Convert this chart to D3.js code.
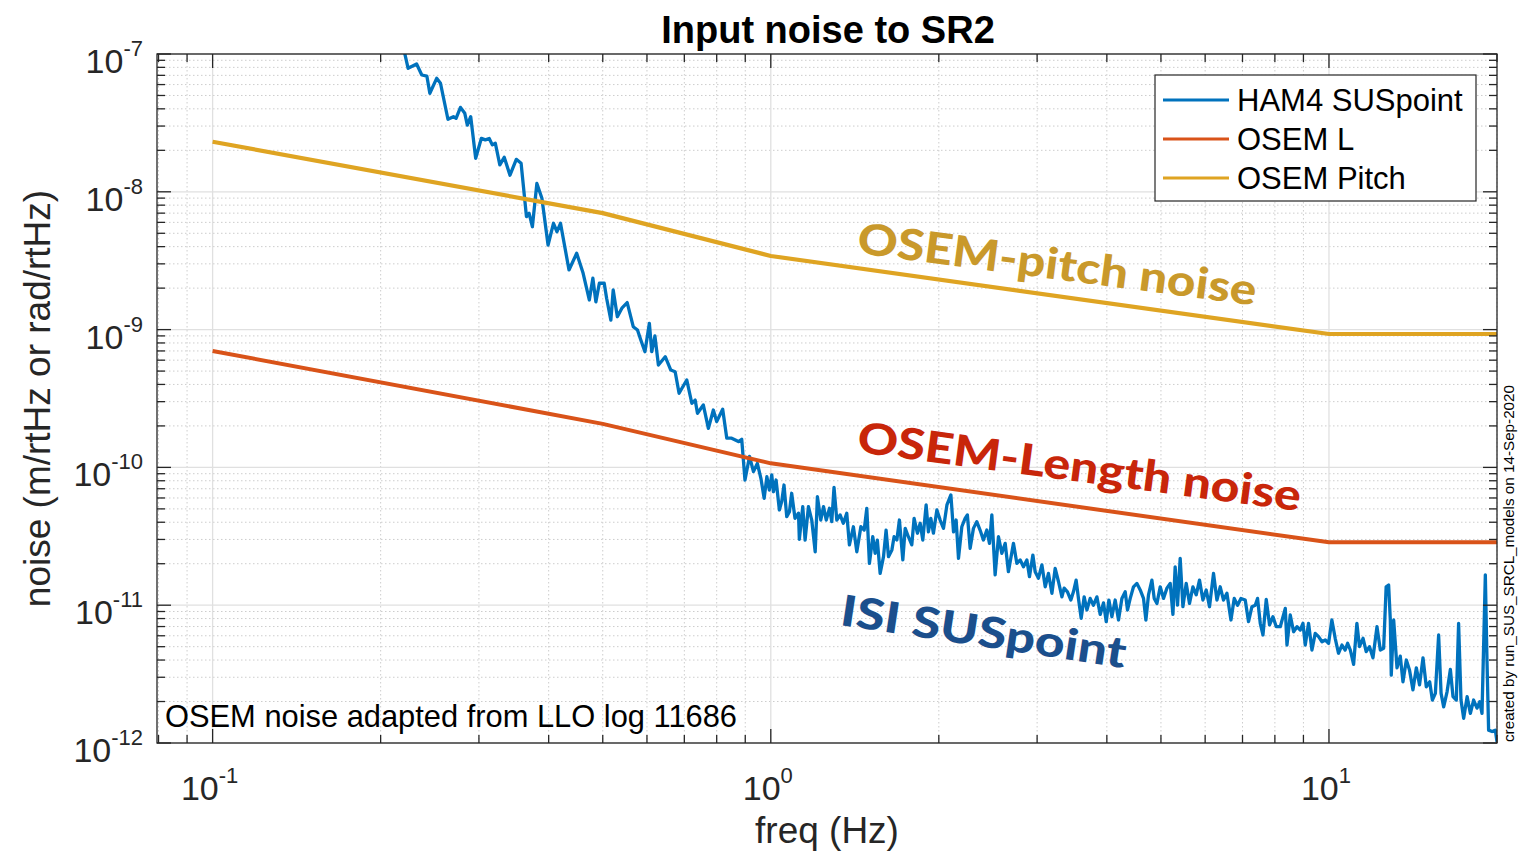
<!DOCTYPE html>
<html><head><meta charset="utf-8">
<script src="https://cdn.jsdelivr.net/npm/d3@7/dist/d3.min.js"></script>
<style>body{margin:0;background:#fff}svg{display:block}</style>
</head><body>
<svg id="chart" width="1518" height="861"></svg>
<script>
// ---- data ----
const hamFreq = [0.215,0.221,0.224,0.232,0.237,0.242,0.245,0.252,0.256,0.264,0.270,0.273,0.278,0.283,0.286,0.290,0.296,0.303,0.308,0.313,0.317,0.321,0.327,0.333,0.341,0.350,0.357,0.365,0.369,0.374,0.381,0.389,0.399,0.408,0.414,0.420,0.435,0.449,0.461,0.473,0.480,0.486,0.493,0.503,0.508,0.517,0.522,0.531,0.541,0.553,0.567,0.577,0.585,0.595,0.606,0.612,0.620,0.629,0.647,0.662,0.674,0.685,0.707,0.722,0.732,0.739,0.757,0.773,0.789,0.800,0.820,0.834,0.851,0.875,0.887,0.899,0.916,0.931,0.946,0.960,0.973,0.984,0.994,1.004,1.011,1.022,1.036,1.046,1.056,1.068,1.080,1.090,1.105,1.121,1.125,1.141,1.152,1.168,1.184,1.201,1.212,1.229,1.243,1.257,1.274,1.286,1.298,1.313,1.331,1.349,1.368,1.383,1.406,1.426,1.450,1.470,1.486,1.502,1.523,1.538,1.552,1.570,1.592,1.609,1.625,1.648,1.663,1.682,1.700,1.724,1.741,1.764,1.789,1.806,1.831,1.852,1.872,1.898,1.916,1.935,1.956,1.984,2.011,2.039,2.068,2.102,2.125,2.148,2.169,2.199,2.229,2.250,2.276,2.307,2.339,2.371,2.404,2.438,2.465,2.489,2.523,2.558,2.594,2.630,2.665,2.721,2.760,2.798,2.836,2.876,2.907,2.948,2.976,3.017,3.060,3.102,3.144,3.189,3.232,3.277,3.323,3.354,3.400,3.448,3.485,3.524,3.558,3.598,3.643,3.684,3.734,3.785,3.839,3.892,3.945,3.990,4.034,4.084,4.140,4.197,4.256,4.315,4.356,4.405,4.465,4.528,4.590,4.653,4.699,4.750,4.817,4.863,4.918,4.985,5.053,5.125,5.195,5.253,5.302,5.354,5.413,5.474,5.549,5.625,5.705,5.783,5.862,5.945,6.027,6.109,6.211,6.299,6.385,6.472,6.564,6.674,6.765,6.858,6.955,7.079,7.176,7.278,7.378,7.448,7.532,7.616,7.720,7.826,7.937,8.046,8.180,8.351,8.409,8.524,8.642,8.764,8.884,8.983,9.068,9.192,9.322,9.449,9.580,9.716,9.849,9.984,10.12,10.26,10.40,10.55,10.69,10.80,10.92,11.07,11.22,11.34,11.51,11.66,11.82,11.99,12.19,12.36,12.53,12.66,12.79,12.88,12.93,13.06,13.24,13.42,13.57,13.76,13.94,14.14,14.34,14.53,14.74,14.94,15.15,15.32,15.51,15.72,15.88,16.05,16.28,16.50,16.68,16.91,17.07,17.24,17.43,17.68,17.92,18.16,18.42,18.62,18.80,19.06,19.19,19.32,19.60,19.86,20.00];
const hamAmp = [1.49e-7,1.00e-7,7.87e-8,8.46e-8,7.04e-8,6.92e-8,5.19e-8,6.66e-8,6.13e-8,3.36e-8,3.51e-8,3.41e-8,4.10e-8,3.71e-8,3.05e-8,3.51e-8,1.75e-8,2.44e-8,2.38e-8,2.44e-8,2.19e-8,2.25e-8,1.57e-8,1.78e-8,1.32e-8,1.72e-8,1.61e-8,6.60e-9,6.98e-9,5.58e-9,1.15e-8,8.97e-9,4.11e-9,5.91e-9,5.13e-9,5.91e-9,2.71e-9,3.58e-9,2.57e-9,1.64e-9,2.36e-9,1.59e-9,2.17e-9,2.17e-9,1.69e-9,1.17e-9,1.94e-9,1.24e-9,1.43e-9,1.57e-9,1.05e-9,9.93e-10,8.40e-10,6.91e-10,1.11e-9,6.91e-10,8.99e-10,5.53e-10,6.36e-10,5.09e-10,4.95e-10,3.45e-10,4.31e-10,2.92e-10,3.08e-10,2.47e-10,2.84e-10,1.92e-10,2.61e-10,2.15e-10,2.64e-10,1.63e-10,1.63e-10,1.54e-10,1.60e-10,8.10e-11,1.20e-10,9.31e-11,1.07e-10,8.33e-11,5.97e-11,8.56e-11,6.85e-11,8.81e-11,6.66e-11,8.10e-11,4.91e-11,5.64e-11,7.45e-11,4.39e-11,4.77e-11,6.49e-11,4.27e-11,4.65e-11,3.01e-11,5.19e-11,2.97e-11,5.19e-11,4.15e-11,2.44e-11,6.13e-11,4.15e-11,5.19e-11,4.15e-11,5.05e-11,4.04e-11,7.17e-11,4.15e-11,4.52e-11,3.93e-11,4.65e-11,2.74e-11,3.71e-11,2.44e-11,3.71e-11,3.51e-11,5.05e-11,2.01e-11,3.14e-11,2.38e-11,2.97e-11,1.70e-11,2.25e-11,3.51e-11,2.25e-11,2.52e-11,3.14e-11,2.97e-11,4.15e-11,2.13e-11,3.61e-11,3.14e-11,2.74e-11,4.27e-11,3.33e-11,3.93e-11,2.97e-11,5.34e-11,3.41e-11,4.27e-11,3.33e-11,4.91e-11,4.15e-11,3.61e-11,5.34e-11,6.31e-11,3.41e-11,4.15e-11,2.19e-11,3.71e-11,4.27e-11,4.52e-11,2.59e-11,3.61e-11,4.04e-11,3.51e-11,2.97e-11,3.51e-11,2.81e-11,4.52e-11,1.66e-11,3.14e-11,2.38e-11,2.81e-11,1.75e-11,2.81e-11,2.01e-11,2.13e-11,1.90e-11,2.13e-11,1.61e-11,2.31e-11,1.75e-11,1.57e-11,1.96e-11,1.36e-11,1.70e-11,1.22e-11,1.85e-11,1.48e-11,1.15e-11,1.33e-11,1.25e-11,1.09e-11,1.25e-11,1.52e-11,1.12e-11,8.03e-12,1.15e-11,9.23e-12,1.12e-11,1.00e-11,1.15e-11,8.57e-12,1.04e-11,7.59e-12,1.09e-11,8.25e-12,1.09e-11,7.81e-12,1.12e-11,1.25e-11,9.23e-12,1.12e-11,1.36e-11,1.44e-11,1.29e-11,1.12e-11,7.81e-12,1.19e-11,1.52e-11,1.12e-11,1.03e-11,1.36e-11,1.12e-11,1.33e-11,1.44e-11,8.57e-12,1.90e-11,1.00e-11,2.19e-11,9.75e-12,1.44e-11,1.03e-11,1.36e-11,1.19e-11,1.52e-11,1.09e-11,1.29e-11,9.75e-12,1.70e-11,1.09e-11,1.36e-11,1.09e-11,1.22e-11,7.81e-12,1.12e-11,1.00e-11,1.12e-11,1.09e-11,7.59e-12,9.75e-12,1.00e-11,1.12e-11,7.39e-12,6.08e-12,1.10e-11,7.19e-12,8.25e-12,6.98e-12,6.98e-12,9.49e-12,5.14e-12,8.49e-12,6.42e-12,6.98e-12,6.61e-12,7.39e-12,5.14e-12,7.39e-12,4.73e-12,6.25e-12,5.91e-12,5.43e-12,5.59e-12,5.29e-12,7.81e-12,5.75e-12,4.48e-12,5.14e-12,4.73e-12,5.29e-12,4.73e-12,3.72e-12,7.39e-12,5.00e-12,5.75e-12,4.60e-12,5.00e-12,4.15e-12,6.98e-12,4.73e-12,4.87e-12,1.36e-11,1.40e-11,7.81e-12,3.11e-12,7.81e-12,3.51e-12,4.27e-12,2.78e-12,4.00e-12,3.39e-12,2.43e-12,3.51e-12,2.64e-12,4.15e-12,2.56e-12,2.78e-12,2.05e-12,2.29e-12,6.08e-12,2.29e-12,1.83e-12,2.36e-12,3.42e-12,2.17e-12,2.05e-12,7.39e-12,2.05e-12,1.51e-12,2.17e-12,1.64e-12,2.05e-12,1.79e-12,1.99e-12,1.64e-12,1.66e-11,4.00e-12,1.24e-12,1.21e-12,1.24e-12,1.02e-12];
const osemFreq = [0.1, 0.5, 1, 10, 20];
const osemL = [7.0e-10, 2.07e-10, 1.07e-10, 2.86e-11, 2.86e-11];
const osemPitch = [2.31e-8, 7.0e-9, 3.42e-9, 9.29e-10, 9.29e-10];
const xTickExps = [-1, 0, 1];
const yTickExps = [-12, -11, -10, -9, -8, -7];
const legendLabels = ["HAM4 SUSpoint", "OSEM L", "OSEM Pitch"];
const seriesColors = ["#0072BD", "#D95319", "#DFA422"];

// ---- layout ----
const L = 157, R = 1497, T = 54, B = 743;
const svg = d3.select("#chart");
const x = d3.scaleLog().domain([0.0795, 20]).range([L, R]);
const y = d3.scaleLog().domain([1e-12, 1e-7]).range([B, T]);
const font = "'Liberation Sans', Arial, Helvetica, sans-serif";
const axisColor = "#262626";

svg.append("rect").attr("width", 1518).attr("height", 861).attr("fill", "#fff");

const xMinor = [], yMinor = [];
for (let e = -2; e <= 1; e++) for (let k = 2; k <= 9; k++) {
  const v = k * Math.pow(10, e);
  if (v >= 0.0795 && v <= 20.0001) xMinor.push(v);
}
for (let e = -12; e <= -8; e++) for (let k = 2; k <= 9; k++) yMinor.push(k * Math.pow(10, e));
const xMajor = xTickExps.map(e => Math.pow(10, e));
const yMajor = yTickExps.map(e => Math.pow(10, e));

const grid = svg.append("g");
grid.selectAll(".xmn").data(xMinor).join("line")
  .attr("x1", d => x(d)).attr("x2", d => x(d)).attr("y1", T).attr("y2", B)
  .attr("stroke", "#cdcdcd").attr("stroke-width", 1).attr("stroke-dasharray", "1.5,2.5");
grid.selectAll(".ymn").data(yMinor).join("line")
  .attr("x1", L).attr("x2", R).attr("y1", d => y(d)).attr("y2", d => y(d))
  .attr("stroke", "#cdcdcd").attr("stroke-width", 1).attr("stroke-dasharray", "1.5,2.5");
grid.selectAll(".xmj").data(xMajor).join("line")
  .attr("x1", d => x(d)).attr("x2", d => x(d)).attr("y1", T).attr("y2", B)
  .attr("stroke", "#e0e0e0").attr("stroke-width", 1.3);
grid.selectAll(".ymj").data(yMajor).join("line")
  .attr("x1", L).attr("x2", R).attr("y1", d => y(d)).attr("y2", d => y(d))
  .attr("stroke", "#e0e0e0").attr("stroke-width", 1.3);

svg.append("clipPath").attr("id", "plotclip").append("rect")
  .attr("x", L).attr("y", T).attr("width", R - L).attr("height", B - T);

const line = d3.line().x(d => x(d[0])).y(d => y(d[1]));
const plotG = svg.append("g").attr("clip-path", "url(#plotclip)");
plotG.append("path").datum(hamFreq.map((f, i) => [f, hamAmp[i]]))
  .attr("d", line).attr("fill", "none").attr("stroke", seriesColors[0])
  .attr("stroke-width", 3.3).attr("stroke-linejoin", "round");
plotG.append("path").datum(osemFreq.map((f, i) => [f, osemL[i]]))
  .attr("d", line).attr("fill", "none").attr("stroke", seriesColors[1])
  .attr("stroke-width", 4).attr("stroke-linejoin", "round");
plotG.append("path").datum(osemFreq.map((f, i) => [f, osemPitch[i]]))
  .attr("d", line).attr("fill", "none").attr("stroke", seriesColors[2])
  .attr("stroke-width", 4.2).attr("stroke-linejoin", "round");

const ax = svg.append("g").attr("stroke", axisColor).attr("stroke-width", 1.3);
ax.append("rect").attr("x", L).attr("y", T).attr("width", R - L).attr("height", B - T).attr("fill", "none");
const xt = xMajor.map(v => [v, 14]).concat(xMinor.map(v => [v, 8]));
const yt = yMajor.map(v => [v, 14]).concat(yMinor.map(v => [v, 8]));
xt.forEach(([v, len]) => {
  ax.append("line").attr("x1", x(v)).attr("x2", x(v)).attr("y1", B).attr("y2", B - len);
  ax.append("line").attr("x1", x(v)).attr("x2", x(v)).attr("y1", T).attr("y2", T + len);
});
yt.forEach(([v, len]) => {
  ax.append("line").attr("x1", L).attr("x2", L + len).attr("y1", y(v)).attr("y2", y(v));
  ax.append("line").attr("x1", R).attr("x2", R - len).attr("y1", y(v)).attr("y2", y(v));
});

const tl = svg.append("g").attr("font-family", font).attr("fill", axisColor);
xTickExps.forEach(e => {
  const t = tl.append("text").attr("x", x(Math.pow(10, e)) - 3).attr("y", 800).attr("text-anchor", "middle");
  t.append("tspan").attr("font-size", 34).text("10");
  t.append("tspan").attr("font-size", 22).attr("dy", -17).text(String(e));
});
yTickExps.forEach(e => {
  const t = tl.append("text").attr("x", 143).attr("y", y(Math.pow(10, e)) + 19).attr("text-anchor", "end");
  t.append("tspan").attr("font-size", 34).text("10");
  t.append("tspan").attr("font-size", 22).attr("dy", -17).text(String(e));
});

svg.append("text").attr("x", 828).attr("y", 43).attr("text-anchor", "middle")
  .attr("font-family", font).attr("font-weight", "bold").attr("font-size", 38).attr("fill", "#000")
  .text("Input noise to SR2");
svg.append("text").attr("x", (L + R) / 2).attr("y", 843).attr("text-anchor", "middle")
  .attr("font-family", font).attr("font-size", 37).attr("fill", axisColor).text("freq (Hz)");
svg.append("text").attr("transform", `translate(50,${(T + B) / 2}) rotate(-90)`).attr("text-anchor", "middle")
  .attr("font-family", font).attr("font-size", 37).attr("fill", axisColor).text("noise (m/rtHz or rad/rtHz)");

const lg = svg.append("g");
lg.append("rect").attr("x", 1155).attr("y", 75).attr("width", 321).attr("height", 126)
  .attr("fill", "#fff").attr("stroke", axisColor).attr("stroke-width", 1.2);
legendLabels.forEach((lab, i) => {
  const yy = 100 + i * 39;
  lg.append("line").attr("x1", 1163).attr("x2", 1229).attr("y1", yy).attr("y2", yy)
    .attr("stroke", seriesColors[i]).attr("stroke-width", 2.8);
  lg.append("text").attr("x", 1237).attr("y", yy + 11).attr("font-family", font)
    .attr("font-size", 31).attr("fill", "#000").text(lab);
});

const annFont = "Lato, 'Open Sans', sans-serif";
function ann(txt, x0, y0, ang, len, col) {
  svg.append("text").attr("transform", `translate(${x0},${y0}) rotate(${ang})`)
    .attr("font-family", annFont).attr("font-weight", 900).attr("font-size", 43)
    .attr("fill", col).attr("textLength", len).attr("lengthAdjust", "spacingAndGlyphs").text(txt);
}
ann("OSEM-pitch noise", 856, 253, 7.5, 402, "#C9992B");
ann("OSEM-Length noise", 856, 452, 7.6, 447, "#C8260A");
ann("ISI SUSpoint", 839, 625, 8.6, 288, "#1B4F8C");

svg.append("text").attr("x", 165).attr("y", 727).attr("font-family", font).attr("font-size", 30.5)
  .attr("fill", "#000").attr("textLength", 572).attr("lengthAdjust", "spacingAndGlyphs")
  .text("OSEM noise adapted from LLO log 11686");

svg.append("text").attr("transform", "translate(1514,742) rotate(-90)")
  .attr("font-family", font).attr("font-size", 15).attr("fill", "#000")
  .attr("textLength", 357).attr("lengthAdjust", "spacingAndGlyphs")
  .text("created by run_SUS_SRCL_models on 14-Sep-2020");
</script>
</body></html>
